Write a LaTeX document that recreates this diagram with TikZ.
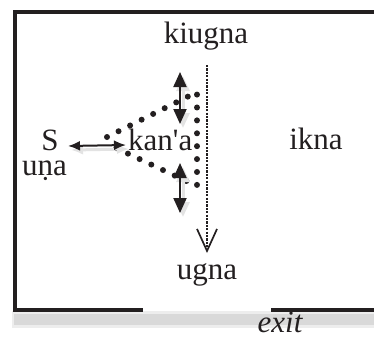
\documentclass[tikz,border=0pt]{standalone}
\usepackage{fontspec}
\setmainfont{Liberation Serif}[Ligatures=TeXOff]
\usetikzlibrary{arrows.meta}
\definecolor{ink}{HTML}{231F20}

\begin{document}
\begin{tikzpicture}[
  x=1pt,y=-1pt,
  font=\fontsize{31}{34}\selectfont,
  lbl/.style={inner sep=0pt,anchor=base,text=ink,text depth=0pt},
  drop/.style={preaction={draw=black!11,line width=#1,
    transform canvas={xshift=3pt,yshift=-4pt}}},
  wall/.style={line width=4pt,draw=ink},
  move/.style={{Latex[length=12pt,width=10pt]}-{Latex[length=12pt,width=10pt]},
    line width=2pt,draw=ink,drop=3pt},
  updown/.style={{Triangle[length=15pt,width=13pt]}-{Triangle[length=15pt,width=13pt]},
    line width=2pt,draw=ink,drop=3pt},
  zone/.style={line width=6pt,line cap=round,dash pattern=on 0pt off 12.9pt,
    draw=ink},
  walk/.style={-{Straight Barb[length=22pt,width=20pt,line width=1.7pt]},
    line width=2pt,dash pattern=on 2.2pt off 1.2pt,draw=ink}
]
\useasboundingbox (0,0) rectangle (374,338);

% soft shadow under the floor line
\coordinate (sl) at (12,311);
\coordinate (sr) at (374,328);
\coordinate (sl2) at (14,314);
\coordinate (sr2) at (374,325);
\fill[black!7] (sl) rectangle (sr);
\fill[black!15] (sl2) rectangle (sr2);

% room walls, open at the exit
\coordinate (wtr) at (374,12);
\coordinate (wtl) at (14.5,12);
\coordinate (wbl) at (14.5,309.5);
\coordinate (gapl) at (143,309.5);
\coordinate (gapr) at (271,309.5);
\coordinate (wbr) at (374,309.5);
\draw[wall] (wtr) -- (wtl) -- (wbl) -- (gapl);
\draw[wall] (gapr) -- (wbr);

\node[lbl] (kiugna) at (206,43) {kiugna};
\node[lbl] (s) at (50,150) {S};
\node[lbl] (una) at (44.5,175) {uṇa};
\node[lbl,anchor=base west] (kana) at (128,150) {kan'a};
\node[lbl] (ikna) at (316,149) {ikna};
\node[lbl] (ugna) at (207,279) {ugna};
\node[lbl,font=\fontsize{31}{34}\selectfont\itshape] (exit) at (280,332) {exit};

% dotted zone round kan'a
\coordinate (za) at (107,137);
\coordinate (zt) at (197,92);
\coordinate (zb) at (197,186);
\coordinate (zc) at (116,148);
\draw[zone] (za) -- (zt) -- (zb) -- (zc);

% walking line towards ugna
\coordinate (pt) at (207,65);
\coordinate (pb) at (207,253);
\draw[walk] (pt) -- (pb);

\coordinate (hl) at (68,146);
\coordinate (hr) at (126,145);
\draw[move] (hl) -- (hr);
\coordinate (ut) at (180,72);
\coordinate (ub) at (180,124);
\draw[updown] (ut) -- (ub);
\coordinate (lt) at (180,163);
\coordinate (lb) at (180,213);
\draw[updown] (lt) -- (lb);
\end{tikzpicture}
\end{document}
